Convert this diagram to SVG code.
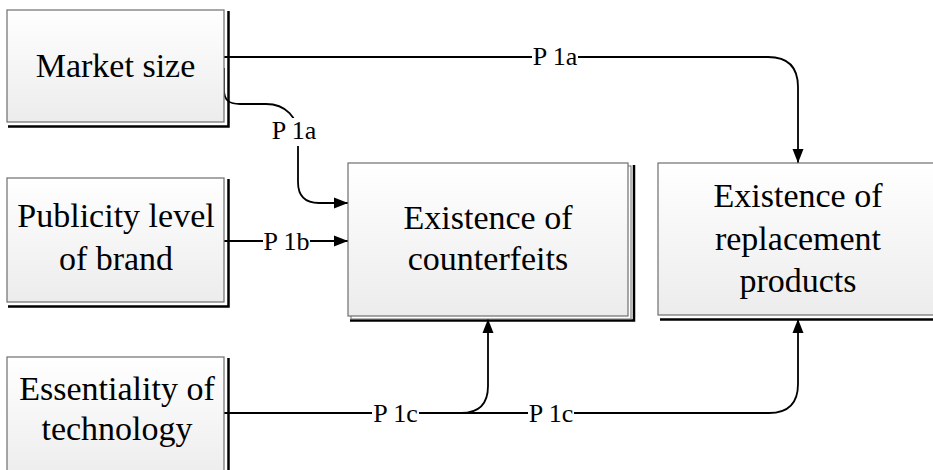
<svg xmlns="http://www.w3.org/2000/svg" width="933" height="470" viewBox="0 0 933 470">
<defs>
<linearGradient id="g" x1="0" y1="0" x2="0" y2="1">
<stop offset="0" stop-color="#ffffff"/>
<stop offset="1" stop-color="#ececec"/>
</linearGradient>
<marker id="arr" markerUnits="userSpaceOnUse" markerWidth="15" markerHeight="12" refX="14" refY="6" orient="auto">
<path d="M0,0.5 L14,6 L0,11.5 z" fill="#000"/>
</marker>
<style>
.box{fill:url(#g);stroke:#6e6e6e;stroke-width:1.2}
.stack{fill:#fff;stroke:#6e6e6e;stroke-width:1}
.sh{fill:none;stroke:#000;stroke-width:2.5}
.t{font-family:'Liberation Serif','Times New Roman',serif;font-size:34px;fill:#000;text-anchor:middle}
.lbl{font-family:'Liberation Serif','Times New Roman',serif;font-size:26px;fill:#000;text-anchor:middle}
.bg{fill:#fff}
.c{fill:none;stroke:#000;stroke-width:1.8}
</style>
</defs>
<rect width="933" height="470" fill="#fff"/>
<g id="connectors">
<path class="c" d="M224,57 H768 Q798,57 798,87 V163" marker-end="url(#arr)"/>
<path class="c" d="M224,68 V90 C224,101 230,104 240,104 H266 C286,104 298,118 298,135 V182 Q298,203 319,203 H348" marker-end="url(#arr)"/>
<path class="c" d="M224,241 H348" marker-end="url(#arr)"/>
<path class="c" d="M224,413 H461 Q488,413 488,386 V319" marker-end="url(#arr)"/>
<path class="c" d="M461,413 H769 Q798,413 798,384 V319" marker-end="url(#arr)"/>
<rect class="bg" x="532" y="44" width="46" height="26"/>
<rect class="bg" x="271" y="118" width="47" height="28"/>
<rect class="bg" x="263" y="228" width="47" height="26"/>
<rect class="bg" x="372" y="400" width="47" height="26"/>
<rect class="bg" x="528" y="400" width="46" height="26"/>
<text class="lbl" x="555" y="65">P 1a</text>
<text class="lbl" x="294" y="139">P 1a</text>
<text class="lbl" x="286.5" y="249.5">P 1b</text>
<text class="lbl" x="395.5" y="421.5">P 1c</text>
<text class="lbl" x="551" y="421.5">P 1c</text>
</g>
<g id="market-size">
<path class="sh" d="M228.5,11 V126.5 H8"/>
<rect class="box" x="7" y="10" width="217" height="112"/>
<text class="t" x="115.5" y="77">Market size</text>
</g>
<g id="publicity-level">
<path class="sh" d="M228.5,179 V306.5 H8"/>
<rect class="box" x="7" y="178" width="217" height="124"/>
<text class="t" x="116" y="227">Publicity level</text>
<text class="t" x="116" y="270">of brand</text>
</g>
<g id="essentiality">
<path class="sh" d="M228.5,358 V480"/>
<rect class="box" x="7" y="357" width="217" height="125"/>
<text class="t" x="117" y="400">Essentiality of</text>
<text class="t" x="117" y="440">technology</text>
</g>
<g id="counterfeits">
<path class="sh" d="M634,165 V320.5 H350"/>
<rect class="stack" x="351" y="166" width="280" height="153"/>
<rect class="box" x="348" y="163" width="280" height="153"/>
<text class="t" x="488" y="229">Existence of</text>
<text class="t" x="488" y="270">counterfeits</text>
</g>
<g id="replacement">
<path class="sh" d="M940,165 V319.5 H660"/>
<rect class="box" x="658" y="163" width="280" height="152"/>
<text class="t" x="798" y="207">Existence of</text>
<text class="t" x="798" y="250">replacement</text>
<text class="t" x="798" y="292">products</text>
</g>
</svg>
